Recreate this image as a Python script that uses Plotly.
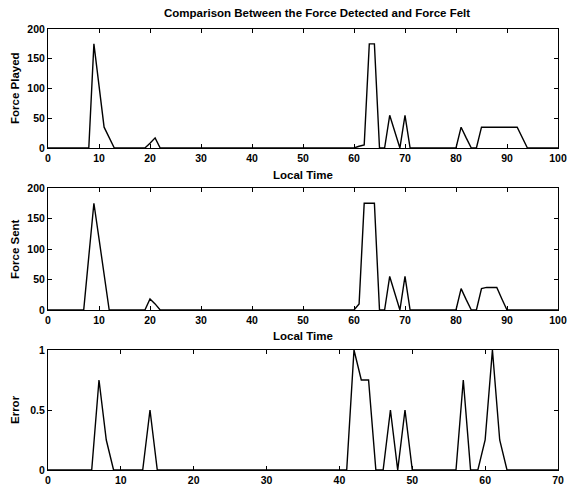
import plotly.graph_objects as go

# Panel 1: Force Played vs Local Time
played_time = [0, 8, 9, 10, 11, 13, 19, 20, 21, 22, 60, 61, 62, 63, 64, 65, 66, 67, 68, 69, 70, 71,
               80, 81, 82, 83, 84, 85, 92, 94, 100]
played_force = [0, 0, 175, 100, 35, 0, 0, 8, 17, 0, 0, 3, 5, 175, 175, 0, 0, 55, 27, 0, 55, 0,
                0, 35, 17, 0, 0, 35, 35, 0, 0]

# Panel 2: Force Sent vs Local Time
sent_time = [0, 7, 8, 9, 10, 11, 12, 19, 20, 21, 22, 60, 61, 62, 63, 64, 65, 66, 67, 68, 69, 70, 71,
             80, 81, 82, 83, 84, 85, 86, 87, 88, 89, 90, 100]
sent_force = [0, 0, 88, 175, 117, 58, 0, 0, 18, 10, 0, 0, 10, 175, 175, 175, 0, 0, 55, 27, 0, 55, 0,
              0, 35, 17, 0, 0, 35, 37, 37, 37, 18, 0, 0]

# Panel 3: Error
error_time = [0, 6, 7, 8, 9, 13, 14, 15, 41, 42, 43, 44, 45, 46, 47, 48, 49, 50,
              56, 57, 58, 59, 60, 61, 62, 63, 70]
error_val = [0, 0, 0.75, 0.25, 0, 0, 0.5, 0, 0, 1, 0.75, 0.75, 0, 0, 0.5, 0, 0.5, 0,
             0, 0.75, 0, 0, 0.25, 1, 0.25, 0, 0]

force_ticks = [0, 50, 100, 150, 200]
time_ticks_100 = list(range(0, 101, 10))
error_ticks = [0, 0.5, 1]
time_ticks_70 = list(range(0, 71, 10))

title_text = "Comparison Between the Force Detected and Force Felt"
xlabel = "Local Time"

W, H = 570, 489
FONT = "Liberation Sans"
line = dict(color="black", width=1.4)

fig = go.Figure()
fig.add_trace(go.Scatter(x=played_time, y=played_force, mode="lines", line=line, xaxis="x", yaxis="y"))
fig.add_trace(go.Scatter(x=sent_time, y=sent_force, mode="lines", line=line, xaxis="x2", yaxis="y2"))
fig.add_trace(go.Scatter(x=error_time, y=error_val, mode="lines", line=line, xaxis="x3", yaxis="y3"))

xdom = [48 / W, 558 / W]


def ydom(top, bottom):
    return [1 - bottom / H, 1 - top / H]


ax_common = dict(showline=True, linecolor="black", linewidth=1, mirror="ticks", ticks="inside",
                 ticklen=4, tickcolor="black", showgrid=False, zeroline=False, automargin=False,
                 tickfont=dict(family=FONT, size=10.5, color="black", weight="bold"))

layout = dict(
    width=W, height=H, showlegend=False,
    margin=dict(l=0, r=0, t=0, b=0, autoexpand=False),
    paper_bgcolor="white", plot_bgcolor="white",
    xaxis=dict(domain=xdom, range=[0, 100], tickvals=time_ticks_100, anchor="y", **ax_common),
    yaxis=dict(domain=ydom(29, 148), range=[0, 200], tickvals=force_ticks, anchor="x", **ax_common),
    xaxis2=dict(domain=xdom, range=[0, 100], tickvals=time_ticks_100, anchor="y2", **ax_common),
    yaxis2=dict(domain=ydom(188, 310), range=[0, 200], tickvals=force_ticks, anchor="x2", **ax_common),
    xaxis3=dict(domain=xdom, range=[0, 70], tickvals=time_ticks_70, anchor="y3", **ax_common),
    yaxis3=dict(domain=ydom(350, 470), range=[0, 1], tickvals=error_ticks, anchor="x3", **ax_common),
)
fig.update_layout(**layout)

afont = dict(family=FONT, size=11.5, color="black", weight="bold")
annots = [
    dict(text=title_text, x=317 / W, y=1 - 13 / H, font=afont),
    dict(text=xlabel, x=303 / W, y=1 - 175 / H, font=afont),
    dict(text=xlabel, x=303 / W, y=1 - 336 / H, font=afont),
    dict(text="Force Played", x=15 / W, y=1 - 88 / H, textangle=-90, font=afont),
    dict(text="Force Sent", x=15 / W, y=1 - 249 / H, textangle=-90, font=afont),
    dict(text="Error", x=15 / W, y=1 - 410 / H, textangle=-90, font=afont),
]
for a in annots:
    fig.add_annotation(xref="paper", yref="paper", showarrow=False, xanchor="center", yanchor="middle", **a)

fig.write_html("out.html", config={"displayModeBar": False},
               post_script="document.body.style.margin='0px';")
